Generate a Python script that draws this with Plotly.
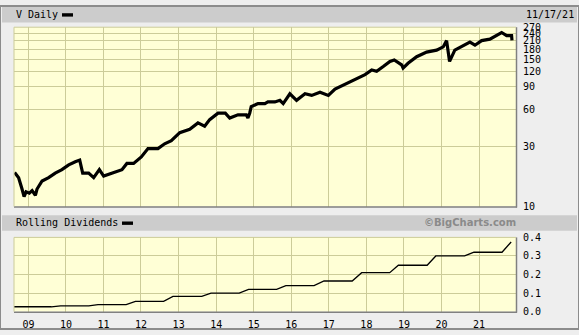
import plotly.graph_objects as go

W, H = 579, 335

price_dates = [
    "2008-08-20", "2008-09-28", "2008-10-31", "2008-11-20", "2008-12-10", "2009-01-10",
    "2009-02-06", "2009-03-10", "2009-03-26", "2009-05-14", "2009-07-17", "2009-09-19",
    "2009-11-23", "2010-01-28", "2010-04-02", "2010-05-15", "2010-06-13", "2010-08-10",
    "2010-09-28", "2010-11-22", "2011-01-03", "2011-03-25", "2011-06-30", "2011-08-17",
    "2011-10-21", "2012-01-04", "2012-03-09", "2012-06-14", "2012-08-18", "2012-10-22",
    "2013-01-12", "2013-04-19", "2013-07-08", "2013-09-11", "2013-10-30", "2014-01-19",
    "2014-03-31", "2014-05-13", "2014-08-01", "2014-10-21", "2014-11-06", "2014-11-23",
    "2014-12-08", "2015-02-12", "2015-04-20", "2015-05-19", "2015-07-26", "2015-09-13",
    "2015-10-15", "2015-12-19", "2016-02-22", "2016-05-14", "2016-07-18", "2016-10-07",
    "2016-12-27", "2017-03-02", "2017-06-08", "2017-09-13", "2017-12-19", "2018-02-22",
    "2018-04-11", "2018-06-14", "2018-08-18", "2018-09-29", "2018-10-22", "2018-12-10",
    "2018-12-24", "2019-02-10", "2019-05-05", "2019-08-10", "2019-11-15", "2020-01-18",
    "2020-02-20", "2020-03-10", "2020-03-20", "2020-05-10", "2020-07-14", "2020-10-04",
    "2020-11-22", "2021-01-26", "2021-04-16", "2021-08-08", "2021-09-26", "2021-11-13",
    "2021-11-17",
]
price_values = [
    18.7, 17.0, 13.8, 12.0, 13.1, 12.8,
    13.4, 12.3, 13.8, 16.0, 17.0, 18.5,
    19.7, 21.5, 22.8, 23.5, 18.5, 18.5,
    17.0, 19.7, 17.5, 18.5, 19.7, 22.1,
    22.1, 24.9, 29.0, 29.0, 31.7, 33.5,
    38.9, 41.4, 46.5, 43.8, 49.4, 55.6,
    55.6, 50.9, 54.0, 54.0, 50.9, 55.6,
    62.7, 66.4, 66.4, 68.4, 68.4, 70.5,
    66.4, 79.4, 70.5, 79.4, 77.1, 81.7,
    77.1, 86.7, 94.8, 103.6, 113.0, 123.0,
    120.0, 131.0, 144.0, 148.0, 144.0, 135.0,
    127.5, 139.0, 157.0, 171.0, 177.0, 188.0,
    211.0, 171.0, 144.0, 177.0, 188.0, 205.0,
    194.0, 211.0, 217.0, 245.0, 231.0, 231.0,
    212.0,
]

div_dates = [
    "2008-08-13", "2008-11-12", "2009-02-11", "2009-05-13", "2009-08-12", "2009-11-10",
    "2010-02-10", "2010-05-12", "2010-08-11", "2010-11-09",
    "2011-02-09", "2011-05-11", "2011-08-10", "2011-11-08",
    "2012-02-08", "2012-05-09", "2012-08-08", "2012-11-07",
    "2013-02-06", "2013-05-15", "2013-08-14", "2013-11-12",
    "2014-02-12", "2014-05-14", "2014-08-13", "2014-11-12",
    "2015-02-11", "2015-05-13", "2015-08-12", "2015-11-10",
    "2016-02-10", "2016-05-11", "2016-08-10", "2016-11-15",
    "2017-02-14", "2017-05-16", "2017-08-16", "2017-11-16",
    "2018-02-15", "2018-05-17", "2018-08-16", "2018-11-08",
    "2019-02-14", "2019-05-16", "2019-08-15", "2019-11-07",
    "2020-02-13", "2020-05-14", "2020-08-13", "2020-11-12",
    "2021-02-11", "2021-05-13", "2021-08-12", "2021-11-09",
]
div_values = [
    0.02625, 0.02625, 0.02625, 0.02625, 0.02625, 0.03125,
    0.03125, 0.03125, 0.03125, 0.0375,
    0.0375, 0.0375, 0.0375, 0.055,
    0.055, 0.055, 0.055, 0.0825,
    0.0825, 0.0825, 0.0825, 0.10,
    0.10, 0.10, 0.10, 0.12,
    0.12, 0.12, 0.12, 0.14,
    0.14, 0.14, 0.14, 0.165,
    0.165, 0.165, 0.165, 0.21,
    0.21, 0.21, 0.21, 0.25,
    0.25, 0.25, 0.25, 0.30,
    0.30, 0.30, 0.30, 0.32,
    0.32, 0.32, 0.32, 0.375,
]

price_ticks = [10, 30, 60, 90, 120, 150, 180, 210, 240, 270]
div_ticks = [0.0, 0.1, 0.2, 0.3, 0.4]
div_ticktext = ["0.0", "0.1", "0.2", "0.3", "0.4"]
year_ticks = ["2009-01-01", "2010-01-01", "2011-01-01", "2012-01-01", "2013-01-01",
              "2014-01-01", "2015-01-01", "2016-01-01", "2017-01-01", "2018-01-01",
              "2019-01-01", "2020-01-01", "2021-01-01"]
year_labels = ["09", "10", "11", "12", "13", "14", "15", "16", "17", "18", "19", "20", "21"]

x_range = ["2008-08-14", "2021-12-26"]

def px(x):
    return x / W

def py(y):
    return 1 - y / H

MONO = "DejaVu Sans Mono"
GRID = "#CCCC99"
PLOTBG = "#FFFFD6"
BG = "#EEEEEE"
BAR = "#CCCCCC"

fig = go.Figure()
fig.add_trace(go.Scatter(x=price_dates, y=price_values, mode="lines",
                         line=dict(color="black", width=3.2), xaxis="x", yaxis="y",
                         showlegend=False, hoverinfo="skip"))
fig.add_trace(go.Scatter(x=div_dates, y=div_values, mode="lines",
                         line=dict(color="black", width=1.3), xaxis="x2", yaxis="y2",
                         showlegend=False, hoverinfo="skip"))

xdom = [px(14), px(516)]
axis_font = dict(family=MONO, size=10, color="black")

fig.update_layout(
    width=W, height=H, autosize=False,
    margin=dict(l=0, r=0, t=0, b=0),
    paper_bgcolor=BG, plot_bgcolor=PLOTBG,
    xaxis=dict(domain=xdom, anchor="y", type="date", range=x_range,
               tickvals=year_ticks, showticklabels=False, showgrid=True,
               gridcolor=GRID, gridwidth=1, zeroline=False, showline=False, ticks=""),
    yaxis=dict(domain=[py(208), py(22)], anchor="x", type="log",
               range=[1, 2.4314], tickvals=price_ticks,
               ticktext=[str(v) for v in price_ticks], side="right",
               showgrid=True, gridcolor=GRID, gridwidth=1, zeroline=False,
               tickfont=axis_font, ticks="", ticklabelstandoff=6, showline=False),
    xaxis2=dict(domain=xdom, anchor="y2", type="date", range=x_range,
                tickvals=year_ticks, ticktext=year_labels, showgrid=True,
                gridcolor=GRID, gridwidth=1, zeroline=False, tickfont=axis_font,
                ticks="", ticklabelstandoff=5, showline=False),
    yaxis2=dict(domain=[py(317), py(240)], anchor="x2", range=[0, 0.4],
                tickvals=div_ticks, ticktext=div_ticktext, side="right",
                showgrid=True, gridcolor=GRID, gridwidth=1, zeroline=False,
                tickfont=axis_font, ticks="", ticklabelstandoff=6, showline=False),
)

shapes = []
# header bars
shapes.append(dict(type="rect", xref="paper", yref="paper", x0=px(2), x1=px(577),
                   y0=py(17), y1=py(1), fillcolor=BAR, line=dict(width=0), layer="below"))
shapes.append(dict(type="rect", xref="paper", yref="paper", x0=px(2), x1=px(577),
                   y0=py(233), y1=py(217), fillcolor=BAR, line=dict(width=0), layer="below"))
# legend swatches
shapes.append(dict(type="rect", xref="paper", yref="paper", x0=px(62), x1=px(73),
                   y0=py(11), y1=py(7.5), fillcolor="black", line=dict(width=0)))
shapes.append(dict(type="rect", xref="paper", yref="paper", x0=px(122), x1=px(133),
                   y0=py(227), y1=py(223.5), fillcolor="black", line=dict(width=0)))
# plot frame shadows (right and bottom)
for (yt, yb) in [(22, 208), (240, 317)]:
    shapes.append(dict(type="line", xref="paper", yref="paper", x0=px(516.5), x1=px(516.5),
                       y0=py(yb + 1), y1=py(yt), line=dict(color="#808080", width=1.5)))
    shapes.append(dict(type="line", xref="paper", yref="paper", x0=px(14), x1=px(517),
                       y0=py(yb + 0.5), y1=py(yb + 0.5), line=dict(color="#808080", width=1.5)))
    shapes.append(dict(type="line", xref="paper", yref="paper", x0=px(14), x1=px(516),
                       y0=py(yt), y1=py(yt), line=dict(color=GRID, width=1)))
    shapes.append(dict(type="line", xref="paper", yref="paper", x0=px(14), x1=px(14),
                       y0=py(yb), y1=py(yt), line=dict(color=GRID, width=1)))
# outer border
shapes.append(dict(type="rect", xref="paper", yref="paper", x0=0, x1=1, y0=0, y1=1,
                   line=dict(color="#8C8C8C", width=2), fillcolor="rgba(0,0,0,0)"))
fig.update_layout(shapes=shapes)

annotations = [
    dict(text="V Daily", x=px(14), y=py(9), xanchor="left", yanchor="middle",
         font=dict(family=MONO, size=10, color="black")),
    dict(text="11/17/21", x=px(524), y=py(9), xanchor="left", yanchor="middle",
         font=dict(family=MONO, size=10, color="black")),
    dict(text="Rolling Dividends", x=px(14), y=py(225), xanchor="left", yanchor="middle",
         font=dict(family=MONO, size=10, color="black")),
    dict(text="©BigCharts.com", x=px(470), y=py(225), xanchor="center", yanchor="middle",
         font=dict(family="DejaVu Sans", size=10, color="#8A8A8A", weight="bold")),
]
for a in annotations:
    a.update(xref="paper", yref="paper", showarrow=False)
fig.update_layout(annotations=annotations)

fig.write_html("out.html")
